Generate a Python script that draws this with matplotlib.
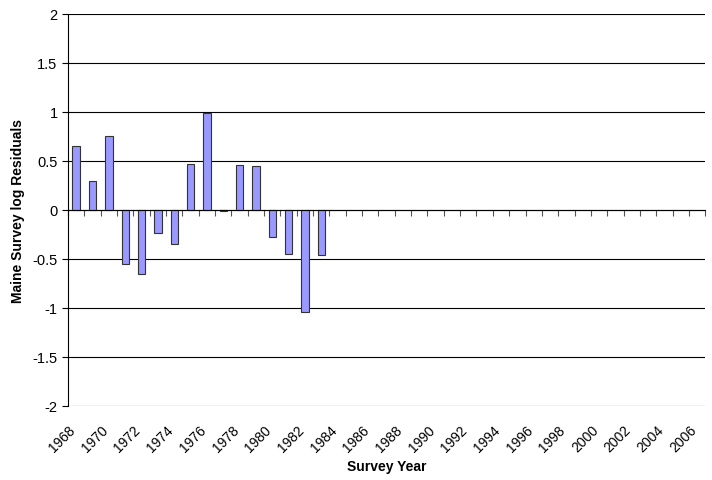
import matplotlib
matplotlib.use('Agg')
import matplotlib.pyplot as plt
import matplotlib.transforms as mtransforms
import numpy as np

plt.rcParams['font.family'] = ['Liberation Sans', 'DejaVu Sans']

# survey years shown on the category axis (1968-2006)
years = list(range(1968, 2007))
# residuals (only 1968-1983 have data)
residuals = [0.65, 0.30, 0.75, -0.55, -0.65, -0.24, -0.35, 0.47, 0.99, -0.01,
             0.46, 0.45, -0.28, -0.45, -1.04, -0.46]
label_years = [str(y) for y in range(1968, 2007, 2)]

fig = plt.figure(figsize=(7.12, 4.81), dpi=100)
ax = fig.add_axes([0.0955, 0.154, 0.895, 0.815])

x = np.arange(len(years))
ax.bar(x[:len(residuals)], residuals, width=0.45, color='#9999ff',
       edgecolor='#333333', linewidth=0.8, zorder=3)

ax.set_xlim(-0.5, len(years) - 0.5)
ax.set_ylim(-2, 2)
ax.set_yticks(np.arange(-2, 2.01, 0.5))
ax.set_yticklabels(['-2', '-1.5', '-1', '-0.5', '0', '0.5', '1', '1.5', '2'], fontsize=10.5)
ax.yaxis.grid(True, color='black', linewidth=0.8, zorder=0)
ax.tick_params(axis='y', direction='out', length=4, width=0.8)

# category axis drawn through zero, tick marks between categories
ax.spines['top'].set_visible(False)
ax.spines['right'].set_visible(False)
ax.spines['bottom'].set_position(('data', 0))
ax.spines['bottom'].set_linewidth(0.8)
ax.spines['bottom'].set_zorder(4)
ax.spines['left'].set_linewidth(0.8)
ax.set_xticks(x[::2])
ax.set_xticklabels([])
ax.set_xticks(np.arange(len(years) + 1) - 0.5, minor=True)
ax.tick_params(axis='x', which='major', length=0)
ax.tick_params(axis='x', which='minor', direction='out', length=4, width=0.8, color='#555555')

# year labels at the bottom of the plot
sec = ax.secondary_xaxis('bottom')
sec.set_xticks(x[::2])
sec.set_xticklabels(label_years, rotation=45, ha='right', rotation_mode='anchor', fontsize=10)
sec.tick_params(length=0, pad=12)
sec.spines['bottom'].set_visible(False)
shift = mtransforms.ScaledTranslation(-8 / 100, 0, fig.dpi_scale_trans)
for lbl in sec.get_xticklabels():
    lbl.set_transform(lbl.get_transform() + shift)
sec.set_xlabel('Survey Year', fontsize=10, fontweight='bold', labelpad=3)

ax.set_ylabel('Maine Survey log Residuals', fontsize=10, fontweight='bold', labelpad=5)

plt.savefig('out.png', dpi=100)
